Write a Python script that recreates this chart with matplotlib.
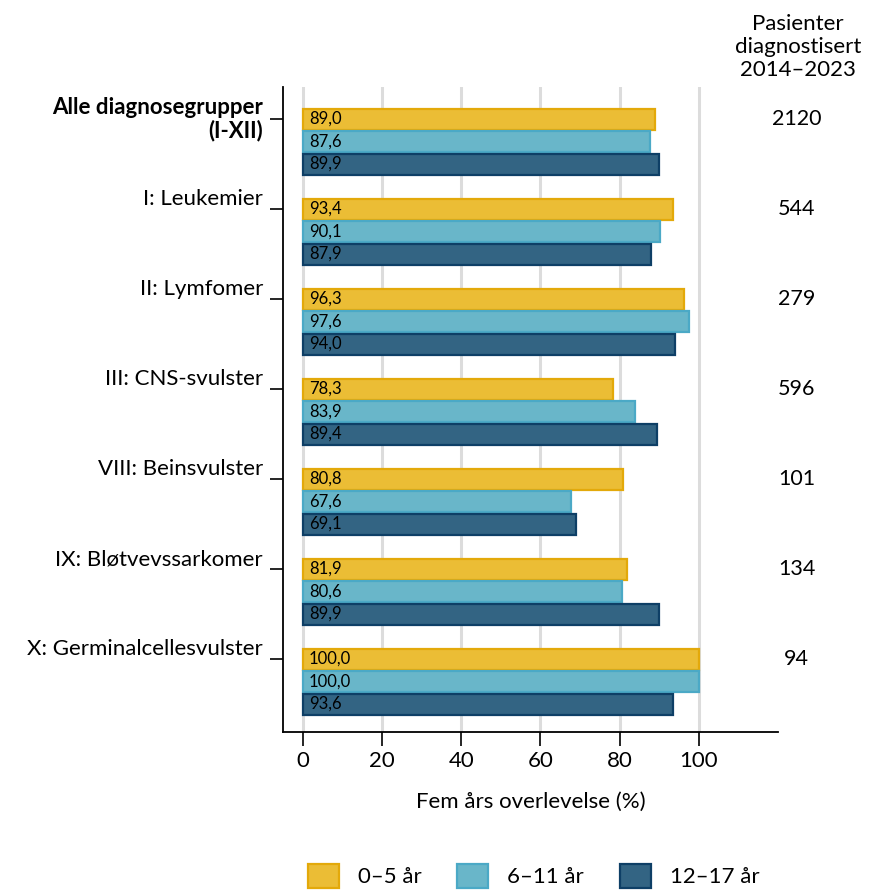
import matplotlib
matplotlib.use("Agg")
import matplotlib.pyplot as plt
from matplotlib.patches import Patch
from matplotlib.transforms import blended_transform_factory
import numpy as np

plt.rcParams['font.family'] = ['Lato', 'DejaVu Sans']

# data
groups = ["Alle diagnosegrupper\n(I-XII)", "I: Leukemier", "II: Lymfomer",
          "III: CNS-svulster", "VIII: Beinsvulster", "IX: Bløtvevssarkomer",
          "X: Germinalcellesvulster"]
age_0_5 = [89.0, 93.4, 96.3, 78.3, 80.8, 81.9, 100.0]
age_6_11 = [87.6, 90.1, 97.6, 83.9, 67.6, 80.6, 100.0]
age_12_17 = [89.9, 87.9, 94.0, 89.4, 69.1, 89.9, 93.6]
patients = [2120, 544, 279, 596, 101, 134, 94]
series_labels = ["0–5 år", "6–11 år", "12–17 år"]

faces = ["#EBBD35", "#69B6C9", "#336483"]
edges = ["#E3A90A", "#4BA9C6", "#0E3F66"]

fig = plt.figure(figsize=(8.69, 8.90), dpi=100)
ax = fig.add_axes([0.3257, 0.1775, 0.5696, 0.7247])

pos = np.arange(len(groups))
step = 0.25
for k, vals in enumerate([age_0_5, age_6_11, age_12_17]):
    y = pos + (k - 1) * step
    ax.barh(y, vals, height=0.235, color=faces[k], edgecolor=edges[k],
            linewidth=1.6, zorder=3)
    for yy, v in zip(y, vals):
        ax.text(1.5, yy, f"{v:.1f}".replace(".", ","), va="center", ha="left",
                fontsize=12, color="black", zorder=4)

ax.set_xlim(-5, 120)
ax.set_ylim(6.56, -0.606)

ax.set_xticks([0, 20, 40, 60, 80, 100])
ax.tick_params(axis="x", labelsize=16, length=10, width=1.2, pad=4)
ax.xaxis.grid(True, color="#DCDCDC", linewidth=2.2, zorder=0)
ax.set_axisbelow(True)

ax.set_yticks(pos - step)
ax.set_yticklabels(groups)
ax.tick_params(axis="y", labelsize=16, length=9.5, width=1.2, pad=5)
for i, lbl in enumerate(ax.get_yticklabels()):
    if i == 0:
        lbl.set_fontweight("bold")
        lbl.set_va("center")
        lbl.set_multialignment("right")
        lbl.set_linespacing(1.05)
    else:
        lbl.set_va("bottom")

for s in ["top", "right"]:
    ax.spines[s].set_visible(False)
for s in ["left", "bottom"]:
    ax.spines[s].set_linewidth(1.3)

ax.set_xlabel("Fem års overlevelse (%)", fontsize=16, labelpad=15)

trans = blended_transform_factory(ax.transAxes, ax.transData)
for yy, n in zip(pos - step, patients):
    ax.text(1.038, yy, str(n), transform=trans, ha="center", va="center",
            fontsize=15.5, clip_on=False)

fig.text(0.918, 0.947, "Pasienter\ndiagnostisert\n2014–2023", ha="center",
         va="center", fontsize=16, linespacing=1.2)

handles = [Patch(facecolor=faces[k], edgecolor=edges[k], linewidth=1.6)
           for k in range(3)]
fig.legend(handles, series_labels, loc="center", ncol=3,
           bbox_to_anchor=(0.614, 1 - 876 / 890), frameon=False, fontsize=16,
           handlelength=1.4, handleheight=1.3, columnspacing=1.6,
           handletextpad=0.85, borderaxespad=0, borderpad=0)

fig.savefig("out.png", dpi=100)
